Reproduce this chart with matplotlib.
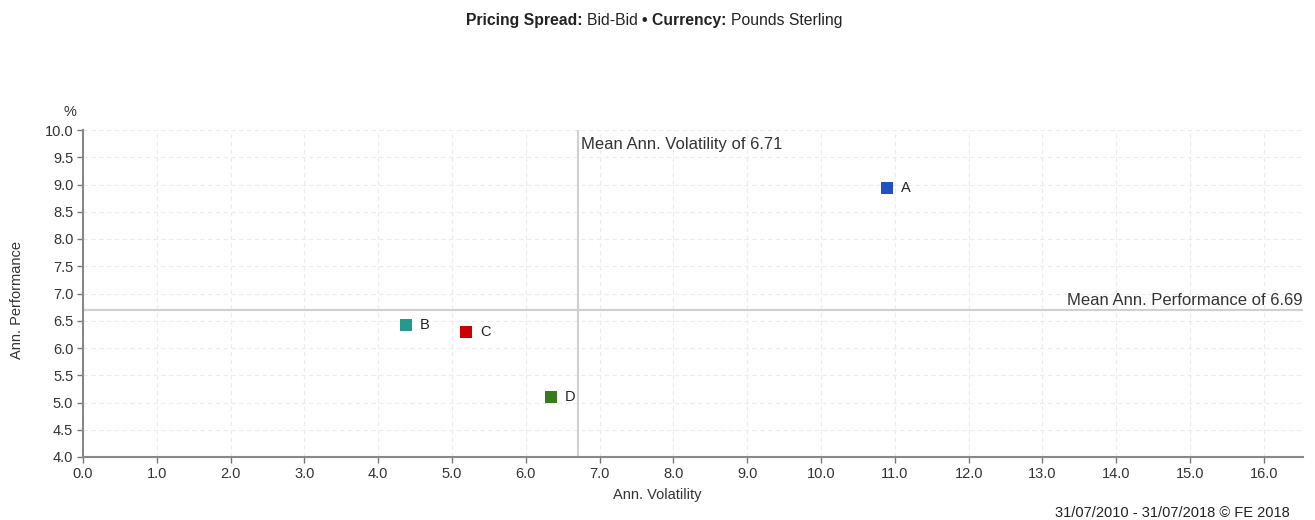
import matplotlib
matplotlib.use("Agg")
import matplotlib.pyplot as plt
import numpy as np

names = ["A", "B", "C", "D"]
volatility = [10.89, 4.38, 5.19, 6.34]
performance = [8.94, 6.42, 6.29, 5.10]
colors = ["#2350c0", "#259a8a", "#cc0000", "#3a7a1e"]
mean_vol = 6.71
mean_perf = 6.69

plt.rcParams['font.family'] = ['Liberation Sans', 'DejaVu Sans']

W, H = 1315, 520
fig = plt.figure(figsize=(W/100, H/100), dpi=100)
ax = fig.add_axes([83/W, 1-457/H, (1303-83)/W, (457-130)/H])

ax.set_xlim(0, 16.53)
ax.set_ylim(4.0, 10.0)
ax.set_xticks(np.arange(0, 16.01, 1.0))
ax.set_yticks(np.arange(4.0, 10.01, 0.5))
ax.set_xticklabels([f"{v:.1f}" for v in np.arange(0, 16.01, 1.0)])
ax.set_yticklabels([f"{v:.1f}" for v in np.arange(4.0, 10.01, 0.5)])
ax.tick_params(axis='both', labelsize=10.5, colors='#333333', length=4, width=1, direction='out', pad=3)
ax.tick_params(axis='both', color='#777777')
ax.grid(True, linestyle=(0, (4, 3)), color='#ebebeb', linewidth=0.8)
ax.set_axisbelow(True)
for s in ['top', 'right']:
    ax.spines[s].set_visible(False)
for s in ['left', 'bottom']:
    ax.spines[s].set_color('#888888')
    ax.spines[s].set_linewidth(1.5)

ax.axvline(mean_vol, color='#d0d0d0', linewidth=1.5, zorder=1)
ax.axhline(mean_perf, color='#d0d0d0', linewidth=1.5, zorder=1)
ax.text(mean_vol + 0.04, 9.88, f"Mean Ann. Volatility of {mean_vol:.2f}", fontsize=12,
        color='#333333', ha='left', va='top')
ax.text(16.53, mean_perf + 0.05, f"Mean Ann. Performance of {mean_perf:.2f}", fontsize=12,
        color='#333333', ha='right', va='bottom')

for n, x, y, c in zip(names, volatility, performance, colors):
    ax.scatter([x], [y], marker='s', s=75, color=c, zorder=3, linewidths=0)
    ax.annotate(n, (x, y), xytext=(10, 0), textcoords='offset points', fontsize=10.5,
                color='#222222', va='center', ha='left')

fig.text(657/W, 1-495/H, "Ann. Volatility", fontsize=10.5, color='#333333', ha='center', va='center')
fig.text(17/W, 1-300/H, "Ann. Performance", fontsize=10.5, color='#333333', ha='center', va='center', rotation=90)
fig.text(70/W, 1-112/H, "%", fontsize=10.5, color='#333333', ha='center', va='center')
fig.text(1290/W, 1-513/H, "31/07/2010 - 31/07/2018 \u00a9 FE 2018", fontsize=10.5, color='#222222', ha='right', va='center')

# Title with mixed weights
parts = [("Pricing Spread: ", 'bold'), ("Bid-Bid ", 'normal'), ("\u2022 ", 'bold'),
         ("Currency: ", 'bold'), ("Pounds Sterling", 'normal')]
fig.canvas.draw()
renderer = fig.canvas.get_renderer()
objs = []
total = 0
for t, w in parts:
    o = fig.text(0, 1-25/H, t, fontsize=11.3, fontweight=w, color='#222222', va='baseline', ha='left')
    bb = o.get_window_extent(renderer=renderer)
    objs.append((o, bb.width))
    total += bb.width
x0 = 654 - total/2
for o, wdt in objs:
    o.set_x(x0/W)
    x0 += wdt

fig.savefig("out.png", dpi=100, facecolor='white')
